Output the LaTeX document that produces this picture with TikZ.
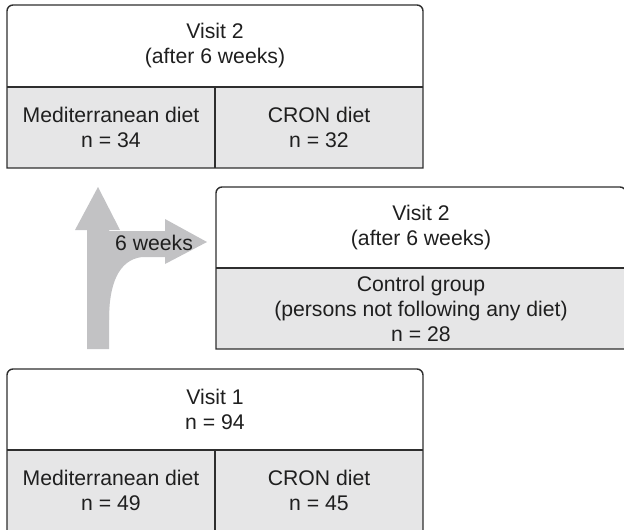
\documentclass[tikz,border=0pt]{standalone}
\usepackage{fontspec}
\setmainfont{Liberation Sans}
\definecolor{cellgray}{HTML}{E6E6E7}
\definecolor{arrowgray}{HTML}{C2C2C4}
\definecolor{linegray}{HTML}{2E2E2E}
\begin{document}
\begin{tikzpicture}[x=1pt,y=-1pt,
  txt/.style={font=\fontsize{21.2}{25}\selectfont, align=center, text=black!88, inner sep=0pt},
  frame/.style={draw=linegray, line width=1.4pt}]
\useasboundingbox (0,0) rectangle (624,530);
\clip (0,0) rectangle (624,530);
% top box
\fill[cellgray] (7,87) rectangle (423,168);
\draw[frame] (7,168) [rounded corners=6pt] -- (7,5) -- (423,5) [sharp corners] -- (423,168) -- cycle;
\draw[frame] (7,87) -- (423,87) (215,87) -- (215,168);
\node[txt] (v2h) at (215,46) {Visit 2\\(after 6 weeks)};
\node[txt] (v2m) at (111,127.5) {Mediterranean diet\\n = 34};
\node[txt] (v2c) at (319,127.5) {CRON diet\\n = 32};
% middle box
\fill[cellgray] (216,268) rectangle (626,349);
\draw[frame] (216,349) [rounded corners=6pt] -- (216,187) -- (626,187) [sharp corners] -- (626,349) -- cycle;
\draw[frame] (216,268) -- (626,268);
\node[txt] (cgh) at (421,227.5) {Visit 2\\(after 6 weeks)};
\node[txt] (cgc) at (421,308.5) {Control group\\(persons not following any diet)\\n = 28};
% bottom box
\fill[cellgray] (7,450) rectangle (423,532);
\draw[frame] (7,532) [rounded corners=6pt] -- (7,369) -- (423,369) [sharp corners] -- (423,532) -- cycle;
\draw[frame] (7,450) -- (423,450) (215,450) -- (215,532);
\node[txt] (v1h) at (215,409.5) {Visit 1\\n = 94};
\node[txt] (v1m) at (111,490) {Mediterranean diet\\n = 49};
\node[txt] (v1c) at (319,490) {CRON diet\\n = 45};
% arrows
\fill[arrowgray] (87,349) -- (87,230) -- (75,230) -- (98,187) -- (120,230) -- (109,230) -- (109,349) -- cycle;
\fill[arrowgray] (105,231) -- (165,231) -- (165,219) -- (207,242) -- (165,264) -- (165,257) -- (142,257)
  .. controls (118,260) and (109,285) .. (109,320) -- (105,320) -- cycle;
\node[txt] (wk) at (154,243) {6 weeks};
\end{tikzpicture}
\end{document}
